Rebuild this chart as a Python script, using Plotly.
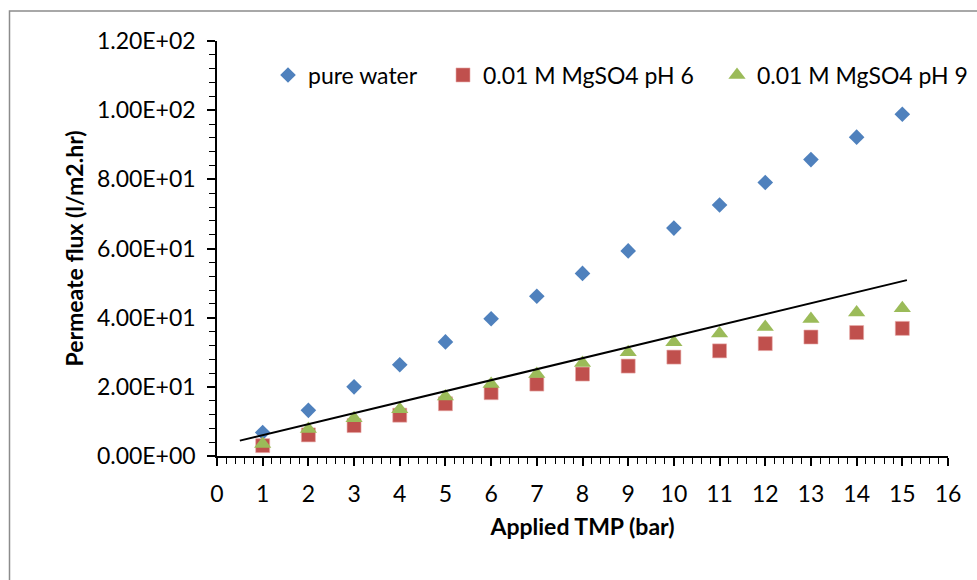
import plotly.graph_objects as go

# Applied transmembrane pressure (bar)
tmp_bar = [1, 2, 3, 4, 5, 6, 7, 8, 9, 10, 11, 12, 13, 14, 15]

# Permeate flux (l/m2.hr)
flux_pure_water = [6.8, 13.2, 20.0, 26.4, 33.0, 39.7, 46.2, 52.8, 59.3, 65.9, 72.6, 79.1, 85.7, 92.2, 98.8]
flux_mgso4_ph6 = [3.0, 6.1, 8.8, 11.8, 15.1, 18.3, 20.8, 23.7, 26.0, 28.6, 30.4, 32.5, 34.4, 35.7, 36.9]
flux_mgso4_ph9 = [3.5, 7.8, 10.9, 13.5, 17.2, 20.8, 23.7, 26.9, 30.0, 32.9, 35.4, 37.3, 39.6, 41.5, 42.7]

# Straight reference line
line_x = [0.5, 15.1]
line_y = [4.45, 50.85]

series_names = ["pure water", "0.01 M MgSO4 pH 6", "0.01 M MgSO4 pH 9"]

x_tick_vals = list(range(0, 17))
y_tick_vals = [0, 20, 40, 60, 80, 100, 120]
y_tick_labels = ["0.00E+00", "2.00E+01", "4.00E+01", "6.00E+01", "8.00E+01", "1.00E+02", "1.20E+02"]

FONT = "Lato"
TXT = 23
BLUE = "#4F81BD"
RED = "#C0504D"
GREEN = "#9BBB59"

fig = go.Figure()

fig.add_trace(go.Scatter(
    x=tmp_bar, y=flux_pure_water, mode="markers", name=series_names[0],
    marker=dict(symbol="diamond", size=12, color=BLUE, line=dict(width=0)),
    legend="legend",
))
fig.add_trace(go.Scatter(
    x=tmp_bar, y=flux_mgso4_ph6, mode="markers", name=series_names[1],
    marker=dict(symbol="square", size=14, color=RED, line=dict(width=0.6, color="#E8A9A8")),
    legend="legend2",
))
fig.add_trace(go.Scatter(
    x=tmp_bar, y=flux_mgso4_ph9, mode="markers", name=series_names[2],
    marker=dict(symbol="triangle-up", size=15, color=GREEN, line=dict(width=0)),
    legend="legend3",
))
fig.add_trace(go.Scatter(
    x=line_x, y=line_y, mode="lines", showlegend=False,
    line=dict(color="black", width=2), hoverinfo="skip",
))

L, R, T, B = 217, 29, 41, 124
W, H = 977, 580
pw, ph = W - L - R, H - T - B


def px_x(p):
    return (p - L) / pw


def px_y(p):
    return (H - B - p) / ph


legend_common = dict(
    orientation="h", yanchor="middle", xanchor="left",
    font=dict(family=FONT, size=TXT, color="black"),
    bgcolor="rgba(0,0,0,0)", borderwidth=0,
)
fig.update_layout(
    legend=dict(x=px_x(268), y=px_y(75), **legend_common),
    legend2=dict(x=px_x(443), y=px_y(75), **legend_common),
    legend3=dict(x=px_x(717), y=px_y(75), **legend_common),
)

axis_font = dict(family=FONT, size=TXT, color="black")
title_font = dict(family=FONT, size=TXT, color="black")

fig.update_layout(
    width=W, height=H,
    margin=dict(l=L, r=R, t=T, b=B, autoexpand=False),
    paper_bgcolor="white", plot_bgcolor="white",
    xaxis=dict(
        range=[0, 16], tickvals=x_tick_vals, ticks="outside", ticklen=8, tickwidth=1.5,
        tickcolor="black", showline=True, linecolor="black", linewidth=1.5,
        showgrid=False, zeroline=False, tickfont=axis_font, ticklabelstandoff=9,
        minor=dict(dtick=0.2, ticks="outside", ticklen=6, tickwidth=1.2, tickcolor="black"),
        title=dict(text="<b>Applied TMP (bar)</b>", font=title_font, standoff=13),
    ),
    yaxis=dict(
        range=[0, 120], tickvals=y_tick_vals, ticktext=y_tick_labels, ticks="outside", ticklen=8,
        tickwidth=1.5, tickcolor="black", showline=True, linecolor="black", linewidth=1.5,
        showgrid=False, zeroline=False, tickfont=axis_font, ticklabelstandoff=7,
        minor=dict(dtick=4, ticks="outside", ticklen=6, tickwidth=1.2, tickcolor="black"),
        title=dict(text="<b>Permeate flux (l/m2.hr)</b>", font=title_font, standoff=7),
    ),
    # companion axes give the major ticks their inner half so they cross the axis lines
    xaxis2=dict(
        overlaying="x", anchor="y", side="bottom", range=[0, 16], tickvals=x_tick_vals,
        ticks="inside", ticklen=7, tickwidth=1.5, tickcolor="black",
        showticklabels=False, showline=False, showgrid=False, zeroline=False,
    ),
    yaxis2=dict(
        overlaying="y", anchor="x", side="left", range=[0, 120], tickvals=y_tick_vals,
        ticks="inside", ticklen=8, tickwidth=1.5, tickcolor="black",
        showticklabels=False, showline=False, showgrid=False, zeroline=False,
    ),
)

# chart-area frame (top and left edges fall inside the page)
fig.add_shape(
    type="rect", xref="paper", yref="paper",
    x0=px_x(9.5), x1=px_x(W + 20), y0=px_y(H + 20), y1=px_y(11),
    line=dict(color="#8C8C8C", width=1.5), fillcolor="rgba(0,0,0,0)", layer="below",
)

fig.write_html("out.html")
